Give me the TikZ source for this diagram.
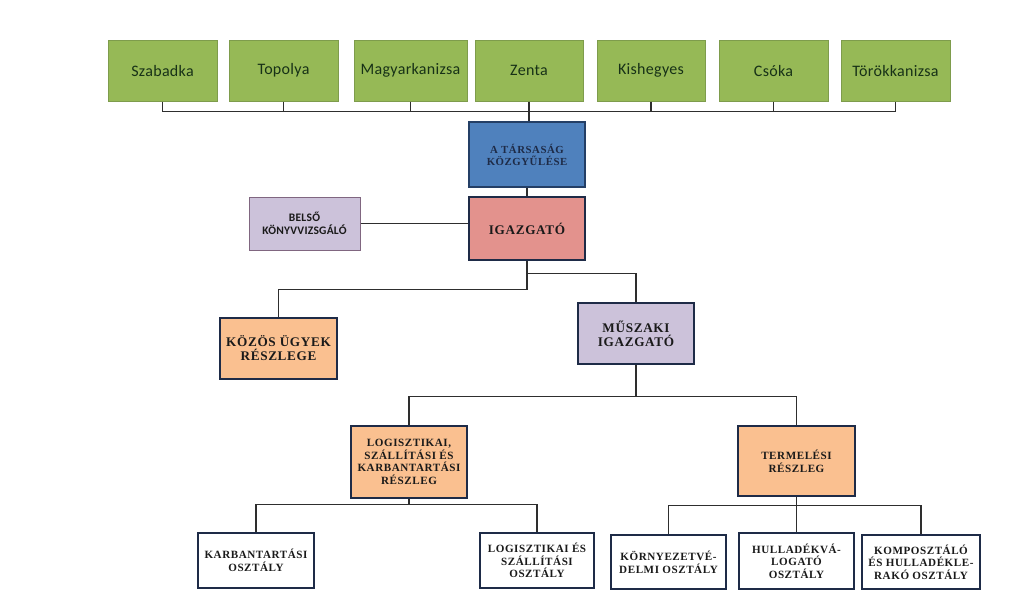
\documentclass[tikz,border=0pt]{standalone}
\usepackage{fontspec}
\setmainfont{Liberation Serif}
\newfontfamily\calib[LetterSpace=2]{Carlito}
\newfontfamily\tnr[LetterSpace=5]{Liberation Serif}
\usetikzlibrary{calc}
\definecolor{gfill}{HTML}{96B956}
\definecolor{gdraw}{HTML}{7E9C4C}
\definecolor{bfill}{HTML}{4F81BD}
\definecolor{bdraw}{HTML}{243F66}
\definecolor{rfill}{HTML}{E3928D}
\definecolor{lfill}{HTML}{CCC2DA}
\definecolor{ofill}{HTML}{FAC090}
\definecolor{navy}{HTML}{1E2B47}
\definecolor{linec}{HTML}{2E2E2E}
\definecolor{txt}{HTML}{1A1A1A}
\tikzset{
  town/.style={draw=gdraw, line width=1pt, fill=gfill, minimum width=109pt, minimum height=61pt,
    inner sep=0pt, font=\calib\fontsize{16}{18}\selectfont, text=txt!90!green},
  unitbox/.style={draw=navy, line width=1.6pt, inner sep=0pt, align=center, text=txt},
  bigtxt/.style={font=\tnr\bfseries\fontsize{13.2}{14}\selectfont},
  smalltxt/.style={font=\tnr\bfseries\fontsize{11.1}{12.6}\selectfont},
  conn/.style={draw=linec, line width=1.3pt}
}
\begin{document}
\begin{tikzpicture}[x=1pt,y=-1pt]
\useasboundingbox (0,0) rectangle (1024,606);
\fill[white] (0,0) rectangle (1024,606);
% towns
\node[town] (szab) at (162.5,70.5) {Szabadka};
\node[town] (topo) at (283.5,70.5) {Topolya};
\node[town, minimum width=113pt] (magy) at (410.5,70.5) {Magyarkanizsa};
\node[town, minimum width=108pt] (zent) at (529,70.5) {Zenta};
\node[town, minimum width=108pt] (kish) at (651,70.5) {Kishegyes};
\node[town] (csok) at (773.5,70.5) {Csóka};
\node[town] (tork) at (895.5,70.5) {Törökkanizsa};
% upper management
\node[unitbox, draw=bdraw, fill=bfill, minimum width=116pt, minimum height=65pt,
  font=\tnr\bfseries\fontsize{10.8}{12}\selectfont, text=navy] (kozgy) at (527,154.5) {A TÁRSASÁG\\KÖZGYŰLÉSE};
\node[unitbox, fill=rfill, minimum width=116pt, minimum height=63pt, bigtxt] (igaz) at (527,228.5) {IGAZGATÓ};
\node[unitbox, draw=gray!80!violet, line width=1pt, fill=lfill, minimum width=111pt, minimum height=53pt,
  font=\calib\bfseries\fontsize{11.5}{13}\selectfont] (belso) at (304.5,223.5) {BELSŐ\\KÖNYVVIZSGÁLÓ};
\node[unitbox, fill=ofill, minimum width=117pt, minimum height=61pt, bigtxt] (kozos) at (278.5,348.5) {KÖZÖS ÜGYEK\\RÉSZLEGE};
\node[unitbox, fill=lfill, minimum width=116pt, minimum height=61pt, bigtxt] (musz) at (636,333.5) {MŰSZAKI\\IGAZGATÓ};
\node[unitbox, fill=ofill, minimum width=116pt, minimum height=72pt, smalltxt] (logi) at (409,462) {LOGISZTIKAI,\\SZÁLLÍTÁSI ÉS\\KARBANTARTÁSI\\RÉSZLEG};
\node[unitbox, fill=ofill, minimum width=117pt, minimum height=70pt, smalltxt] (term) at (796.5,461) {TERMELÉSI\\RÉSZLEG};
% departments
\node[unitbox, fill=white, minimum width=116pt, minimum height=55pt, smalltxt] (karb) at (256,560.5) {KARBANTARTÁSI\\OSZTÁLY};
\node[unitbox, fill=white, minimum width=114pt, minimum height=55pt, smalltxt] (loges) at (537,560.5) {LOGISZTIKAI ÉS\\SZÁLLÍTÁSI\\OSZTÁLY};
\node[unitbox, fill=white, minimum width=115pt, minimum height=54pt, smalltxt] (korny) at (668.5,562) {KÖRNYEZETVÉ-\\DELMI OSZTÁLY};
\node[unitbox, fill=white, minimum width=115pt, minimum height=56pt, smalltxt] (hull) at (796.5,561) {HULLADÉKVÁ-\\LOGATÓ\\OSZTÁLY};
\node[unitbox, fill=white, minimum width=118pt, minimum height=54pt, smalltxt] (komp) at (921,562) {KOMPOSZTÁLÓ\\ÉS HULLADÉKLE-\\RAKÓ OSZTÁLY};
% connectors: towns
\path[conn] (szab.south) |- ($(tork.south)+(0,10)$) -- (tork.south);
\path[conn] (topo.south) -- ++(0,10);
\path[conn] (magy.south) -- ++(0,10);
\path[conn] (kish.south) -- ++(0,10);
\path[conn] (csok.south) -- ++(0,10);
\path[conn] (zent.south) -- (zent.south |- kozgy.north);
\path[conn] (kozgy.south) -- (igaz.north);
\path[conn] (belso.east) -- (belso.east -| igaz.west);
% director
\path[conn] (igaz.south) -- ++(0,29) -| (kozos.north);
\path[conn] ($(igaz.south)+(0,13)$) -| (musz.north);
% technical director
\path[conn] (musz.south) -- ++(0,32);
\path[conn] (logi.north) |- ($(musz.south)+(0,32)$) -| (term.north);
% logistics
\path[conn] (logi.south) -- ++(0,5.5);
\path[conn] (karb.north) |- ($(logi.south)+(0,5.5)$) -| (loges.north);
% production
\path[conn] (term.south) -- (hull.north);
\path[conn] (korny.north) |- ($(term.south)+(0,9)$) -| (komp.north);
\end{tikzpicture}
\end{document}
